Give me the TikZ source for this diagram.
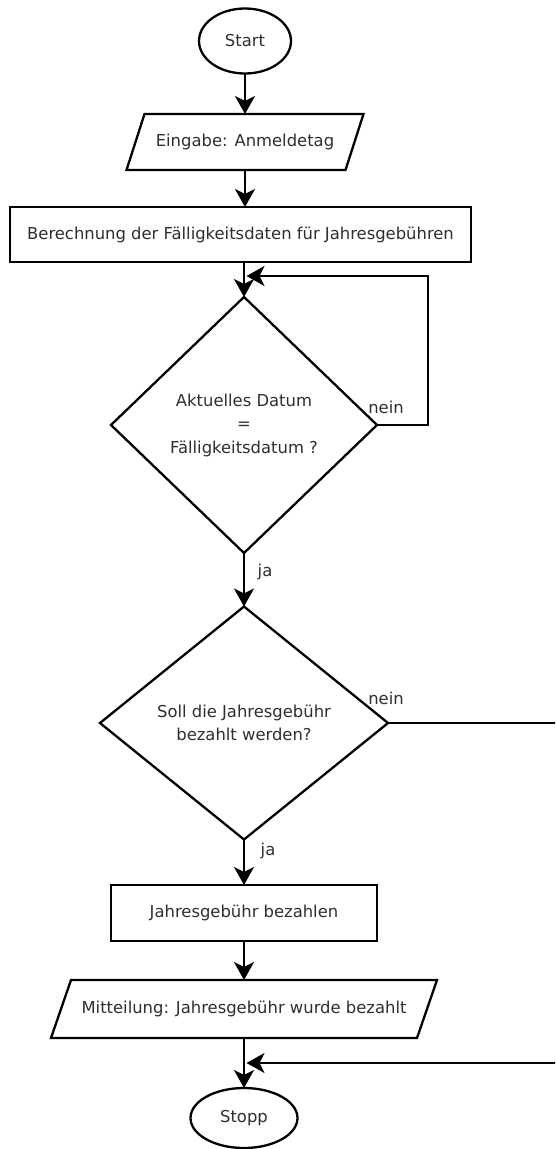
\documentclass[tikz,border=0pt]{standalone}
\usepackage{fontspec}
\setmainfont{DejaVu Sans}
\usetikzlibrary{shapes.geometric,arrows.meta,calc}

% outline of an input/output box: a parallelogram leaning to the right
\newcommand\drawslant[2]{%
  \draw[line] ($(#1.north west)+(#2,0)$) -- ($(#1.north east)+(#2,0)$)
    -- ($(#1.south east)-(#2,0)$) -- ($(#1.south west)-(#2,0)$) -- cycle;}

\begin{document}
\begin{tikzpicture}[x=1pt,y=1pt,
  line/.style={draw=black, line width=2.3pt},
  flow/.style={line, -{Stealth[length=18pt,width=20pt,inset=5pt]}},
  txt/.style={font=\fontsize{16.4}{23.5}\selectfont, text=black!82},
  terminal/.style={ellipse, line, txt, inner sep=0pt, outer sep=0pt},
  process/.style={rectangle, line, txt, inner sep=0pt, outer sep=0pt},
  ioshape/.style={rectangle, txt, inner sep=0pt, outer sep=0pt},
  decision/.style={diamond, line, txt, align=center, inner sep=0pt, outer sep=0pt},
  lbl/.style={font=\fontsize{16.4}{18}\selectfont, text=black!82, inner sep=0pt},
]
\clip (0,0) rectangle (555,-1149);

% nodes, all centred on the main column x = 245 (the wide box excepted)
\node[terminal, minimum width=92, minimum height=65] (start) at (245,-41) {Start};
\node[ioshape, minimum width=219, minimum height=56] (in1) at (245,-142) {Eingabe: Anmeldetag};
\drawslant{in1}{9}
\node[process, minimum width=461, minimum height=55] (calc) at (240.5,-234.5)
  {Berechnung der Fälligkeitsdaten für Jahresgebühren};
\node[decision, minimum width=266, minimum height=256] (d1) at (244,-425)
  {Aktuelles Datum\\=\\Fälligkeitsdatum ?};
\node[decision, minimum width=288, minimum height=233] (d2) at (244,-723)
  {Soll die Jahresgebühr\\bezahlt werden?};
\node[process, minimum width=266, minimum height=56] (pay) at (244,-913) {Jahresgebühr bezahlen};
\node[ioshape, minimum width=366, minimum height=58] (out) at (244,-1009)
  {Mitteilung: Jahresgebühr wurde bezahlt};
\drawslant{out}{10}
\node[terminal, minimum width=107, minimum height=60] (stop) at (244,-1118) {Stopp};

% junction points where returning lines meet the main flow
\coordinate (loopin) at ($(d1.north)+(2.5,21)$);
\coordinate (loopR) at (428,-276);
\coordinate (skipR) at (563,-1063);
\coordinate (stopin) at ($(stop.north)+(2.5,25)$);

% connectors
\draw[flow] (start.south) -- (start.south |- in1.north);
\draw[flow] (in1.south) -- (in1.south |- calc.north);
\draw[flow] (d1.north |- calc.south) -- (d1.north);
\draw[flow] (d1.east) -| (loopR) -- (loopin);
\draw[flow] (d1.south) -- (d2.north);
\draw[flow] (d2.south) -- (pay.north);
\draw[flow] (pay.south) -- (out.north);
\draw[flow] (out.south) -- (stop.north);
\draw[flow] (d2.east) -| (skipR) |- (stopin);

% branch labels
\node[lbl] (n1) at (386,-407) {nein};
\node[lbl] (j1) at (265,-572) {ja};
\node[lbl] (n2) at (386,-698) {nein};
\node[lbl] (j2) at (268,-851) {ja};
\end{tikzpicture}
\end{document}
